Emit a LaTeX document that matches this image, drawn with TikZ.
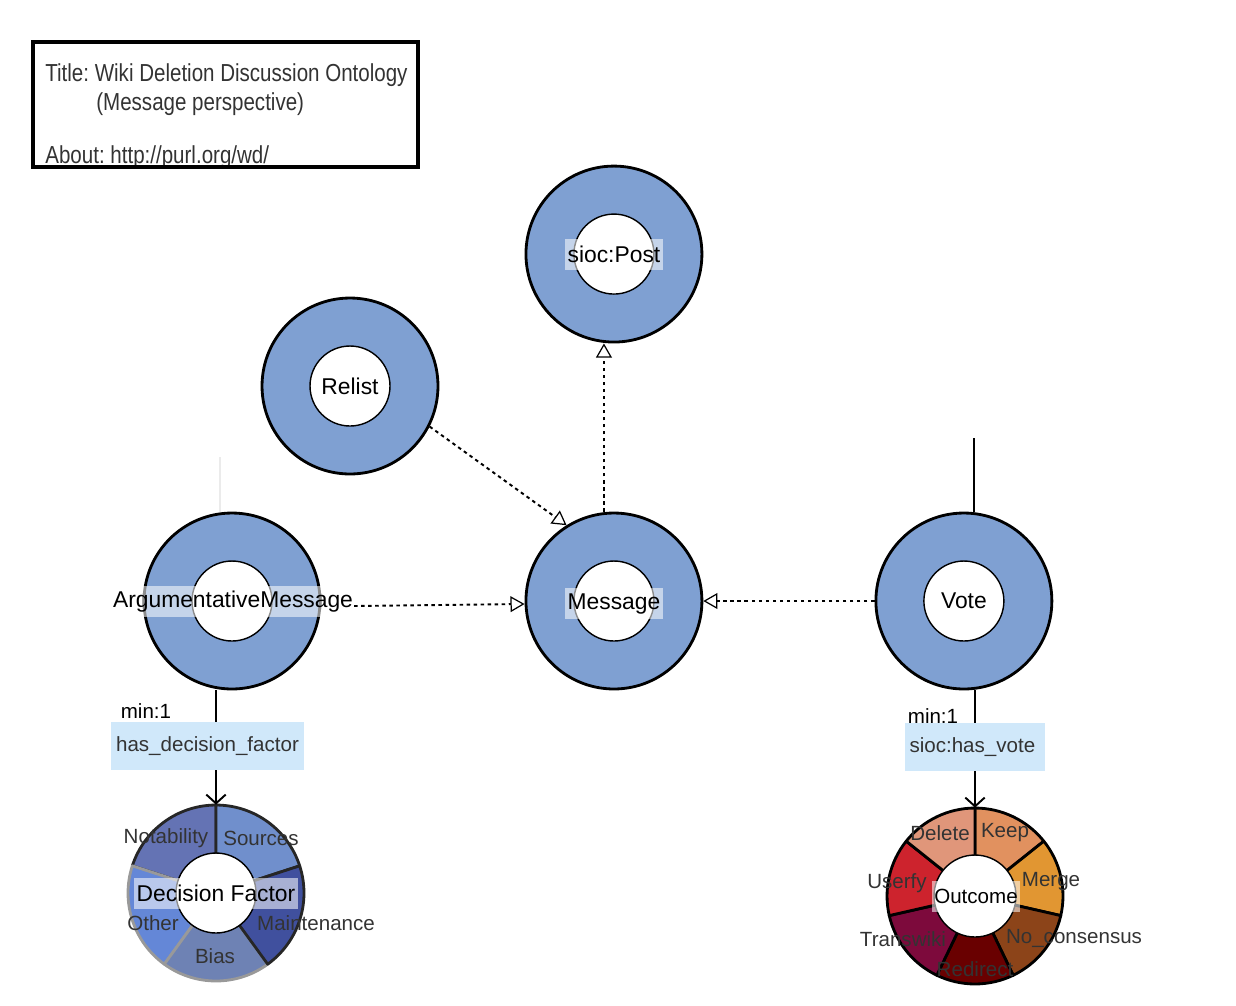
\documentclass[tikz,border=0pt]{standalone}
\usepackage{fontspec}
\setmainfont{Liberation Sans}
\usetikzlibrary{arrows.meta,positioning}
\frenchspacing

\definecolor{ringblue}{HTML}{7FA0D2}
\definecolor{propblue}{HTML}{D0E8FA}
\definecolor{dfnot}{HTML}{6473B4}
\definecolor{dfsrc}{HTML}{708FCC}
\definecolor{dfmnt}{HTML}{40509E}
\definecolor{dfbias}{HTML}{6E82B4}
\definecolor{dfoth}{HTML}{6487D7}
\definecolor{ocdel}{HTML}{E0967A}
\definecolor{ockeep}{HTML}{E1915F}
\definecolor{ocmerge}{HTML}{E19632}
\definecolor{ocnocon}{HTML}{8C4419}
\definecolor{ocredir}{HTML}{690000}
\definecolor{octrans}{HTML}{7D0A3C}
\definecolor{ocuser}{HTML}{CD232D}

\newcommand{\narrowtxt}[1]{\scalebox{0.835}[1]{#1}}

\begin{document}
\begin{tikzpicture}[x=0.02cm,y=0.02cm,>={Straight Barb[length=5pt,width=11pt]},every node/.append style={align=center},ring/.style={circle,draw,line width=1.6pt,fill=ringblue,minimum size=3.52cm,inner sep=0pt},hole/.style={circle,draw,line width=0.8pt,fill=white,minimum size=1.6cm,inner sep=0pt,font=\fontsize{13}{15}\selectfont},lab/.style={fill=white,fill opacity=0.55,text opacity=1,inner xsep=1.5pt,inner ysep=0pt,minimum height=0.62cm,font=\fontsize{13}{15}\selectfont},pie/.style={circle,minimum size=3.52cm,inner sep=0pt},slicelab/.style={inner sep=0pt,text=black!80,font=\fontsize{11.7}{14}\selectfont},isa/.style={line width=1.1pt,dash pattern=on 2pt off 2pt,-{Triangle[open,length=8pt,width=9pt,line width=0.7pt]}},has/.style={line width=1.1pt,->},prop/.style={fill=propblue,inner xsep=2.8pt,inner ysep=0pt,minimum height=0.96cm,text=black!80,font=\fontsize{11.7}{14}\selectfont},minlab/.style={inner sep=0pt,font=\fontsize{11.7}{14}\selectfont},titletext/.style={anchor=west,inner sep=0pt,text=black!80,font=\fontsize{14}{16}\selectfont},titlebox/.style={draw,line width=2.3pt,minimum width=7.7cm,minimum height=2.5cm,inner sep=0pt},]
    \useasboundingbox (0,0) rectangle (1236,-1005);

    \node [titletext] (t1) at (45,-75)  {\narrowtxt{Title: Wiki Deletion Discussion Ontology}};
    \node [titletext] (t2) at (96,-104) {\narrowtxt{(Message perspective)}};
    \node [titletext] (t3) at (45,-157) {\narrowtxt{About: http://purl.org/wd/}};
    \node [titlebox] (title) at (225.5,-104.5) {};

    \node [ring] (AM) at (232,-601)                      {};
    \node [hole] (AM-in) at (AM)                         {};
    \node [lab, minimum width=3.58cm] (AM-box) at (AM)   {};
    \node [hole, draw=none, fill=none, inner sep=0pt] (AM-lab) at (233,-602) {ArgumentativeMessage};
    \node [ring, right=4.064cm of AM] (Message)          {};
    \node [hole] (Message-in) at (Message)               {};
    \node [lab] (Message-lab) at ([yshift=-1.5pt] Message.center) {Message};
    \node [ring, right=3.424cm of Message] (Vote)        {};
    \node [hole] (Vote-in) at (Vote)                     {Vote};
    \node [ring, above=3.364cm of Message] (Post)        {};
    \node [hole] (Post-in) at (Post)                     {};
    \node [lab] (Post-lab) at (Post)                     {sioc:Post};
    \node [ring] (Relist) at (350,-386)                  {};
    \node [hole] (Relist-in) at (Relist)                 {Relist};

    \path [isa] (Relist.-27) edge (Message.122);
    \path [isa] ([xshift=-0.2cm] Message.north) edge ([xshift=-0.2cm] Post.south);
    \path [isa] ([yshift=-0.08cm] AM-lab.east) edge ([yshift=-0.06cm] Message.west);
    \path [isa] (Vote.west) edge (Message.east);

    \coordinate (vote-top) at (974,-438);
    \draw [line width=1.1pt] (vote-top) -- (vote-top |- Vote.north);
    \coordinate (am-top) at (220,-457);
    \draw [black!8, line width=0.8pt] (am-top) -- (am-top |- AM.north);

    %decision factors
    \node [pie] (DF) at (216,-893) {};
    \foreach \a/\col/\edge in {162/dfnot/black!85, 234/dfoth/black!40, 306/dfbias/black!40, 90/dfsrc/black!85, 18/dfmnt/black!85}
        \filldraw [fill=\col, draw=\edge, line width=1.6pt, line join=round] (DF.center) -- ++(\a:1.76cm) arc [start angle=\a, delta angle=-72, radius=1.76cm] -- cycle;
    \node [hole] (DF-in) at (DF) {};
    \node [lab] (DF-lab) at (DF) {Decision Factor};
    \foreach \name/\x/\y in {Notability/166/838, Sources/261/838, Other/153/923, Maintenance/316/923, Bias/215/956}
        \node [slicelab] (DF-\name) at (\x,-\y) {\name};

    %outcomes
    \node [pie] (OC) at (975,-896) {};
    \foreach \col [count=\i from 0] in {ockeep, ocmerge, ocnocon, ocredir, octrans, ocuser, ocdel}
        \filldraw [fill=\col, draw=black, line width=1.6pt, line join=round] (OC.center) -- ++({90-360/7*\i}:1.76cm) arc [start angle={90-360/7*\i}, delta angle={-360/7}, radius=1.76cm] -- cycle;
    \node [hole, minimum size=1.64cm] (OC-in) at (OC) {};
    \node [lab] (OC-lab) at (976,-896) {\fontsize{11.7}{14}\selectfont Outcome};
    \foreach \name/\txt/\x/\y in {Delete/Delete/940/833, Keep/Keep/1005/833, Merge/Merge/1051/882, Nocon/No\_consensus/1074/938, Redirect/Redirect/975/969, Transwiki/Transwiki/903/939, Userfy/Userfy/897/883}
        \node [slicelab] (OC-\name) at (\x,-\y) {\txt};

    \draw [has] (AM.south -| DF.north) -- (DF.north);
    \node [prop] (hdf) at (207.5,-746) {has\_decision\_factor};
    \node [minlab] (hdf-min) at (146,-711) {min:1};
    \draw [has] (Vote.south -| OC.north) -- (OC.north);
    \node [prop, minimum width=2.72cm, text width=2.62cm, align=left] (hv) at (975,-747) {sioc:has\_vote};
    \node [minlab] (hv-min) at (933,-716) {min:1};
\end{tikzpicture}
\end{document}
